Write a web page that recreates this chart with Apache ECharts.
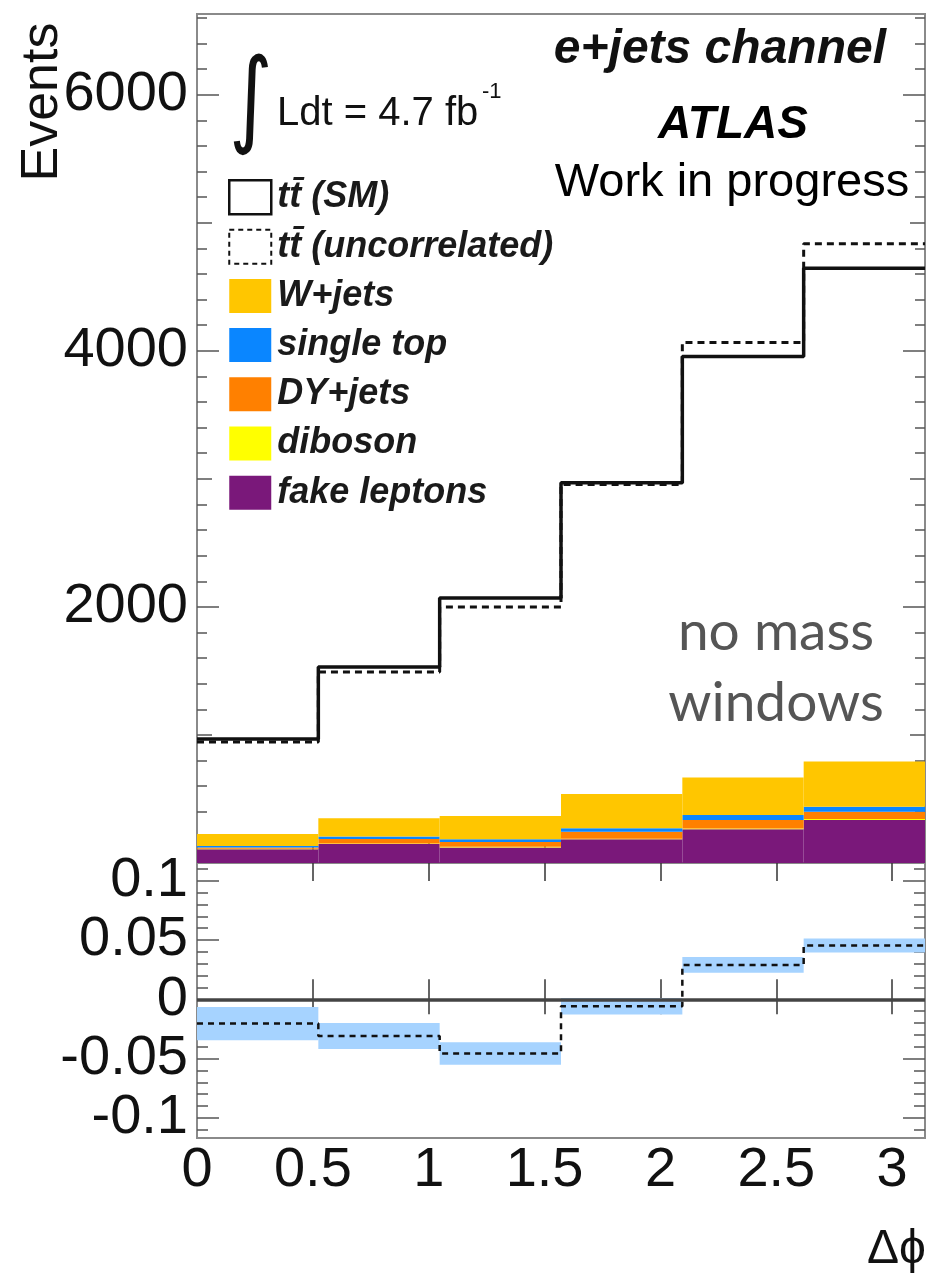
<!DOCTYPE html>
<html><head><meta charset="utf-8">
<script src="https://cdn.jsdelivr.net/npm/echarts@6/dist/echarts.min.js"></script>
<style>html,body{margin:0;padding:0;background:#fff}#chart{width:930px;height:1277px}</style>
</head><body><div id="chart"></div>
<script>
// ---- data ----
const binEdges = [0, 0.5236, 1.0472, 1.5708, 2.0944, 2.6180, 3.1416];
const ttSM = [969, 1531, 2070, 2970, 3955, 4645];
const ttUncorrelated = [945, 1492, 2000, 2955, 4065, 4835];
const fakeLeptons = [108, 148, 122, 185, 263, 336];
const diboson = [3, 4, 4, 5, 6, 7];
const dyJets = [10, 35, 38, 55, 67, 58];
const singleTop = [12, 19, 21, 26, 39, 39];
const wJets = [94, 143, 182, 268, 292, 352];
const ratioValues = [-0.0205, -0.031, -0.0457, -0.0059, 0.029, 0.0454];
const ratioErrors = [0.014, 0.011, 0.0095, 0.007, 0.0066, 0.006];
const xTickLabels = [0, 0.5, 1, 1.5, 2, 2.5, 3];
const mainYTickLabels = [2000, 4000, 6000];
const mainYMidTicks = [1000, 3000, 5000];
const ratioYTickLabels = [-0.1, -0.05, 0, 0.05, 0.1];
const legendNames = ['t\u0074\u0304 (SM)', 't\u0074\u0304 (uncorrelated)', 'W+jets', 'single top', 'DY+jets', 'diboson', 'fake leptons'];

// ---- helpers ----
const X_MAX = binEdges[binEdges.length - 1];
const MAIN_MAX = 6630, RATIO_MIN = -0.117, RATIO_MAX = 0.115;
const mainMinor = [];
for (let v = 200; v < MAIN_MAX; v += 200) if (v % 1000 !== 0) mainMinor.push(v);
const ratioMinor = [];
for (let i = -11; i <= 11; i++) if (i % 5 !== 0) ratioMinor.push(i / 100);

function stepData(vals) {
  return binEdges.map((e, i) => [e, vals[Math.min(i, vals.length - 1)]]);
}
const TICK = '#555';
const FONT = 'Liberation Sans';
const plainNum = v => String(v);

function yAx(grid, pos, min, max, ticks, len, labels) {
  return {
    type: 'value', gridIndex: grid, position: pos, min: min, max: max,
    axisLine: {show: false}, splitLine: {show: false},
    axisLabel: labels ? {show: true, customValues: labels, formatter: plainNum, fontFamily: FONT, fontSize: 56, color: '#111', margin: 9}
                      : {show: false},
    axisTick: {show: true, inside: true, length: len, customValues: ticks, lineStyle: {color: TICK, width: 1.5}}
  };
}
function xAx(grid, pos, len, labels) {
  return {
    type: 'value', gridIndex: grid, position: pos, min: 0, max: X_MAX,
    axisLine: {show: false}, splitLine: {show: false},
    axisLabel: labels ? {show: true, customValues: xTickLabels, formatter: plainNum, fontFamily: FONT, fontSize: 56, color: '#111', margin: 5}
                      : {show: false},
    axisTick: {show: true, inside: true, length: len, customValues: xTickLabels.slice(1), lineStyle: {color: '#333', width: 1.5}}
  };
}

// stacked backgrounds, bottom to top
const stackOrder = [
  {name: legendNames[6], vals: fakeLeptons, color: '#7A187A'},
  {name: legendNames[5], vals: diboson, color: '#FFFF00'},
  {name: legendNames[4], vals: dyJets, color: '#FF8000'},
  {name: legendNames[3], vals: singleTop, color: '#0A86FF'},
  {name: legendNames[2], vals: wJets, color: '#FFC600'}
];
const cumBase = fakeLeptons.map(() => 0);
const stackSeries = stackOrder.map(s => {
  const data = s.vals.map((v, i) => {
    const row = [binEdges[i], binEdges[i + 1], cumBase[i], cumBase[i] + v];
    cumBase[i] += v;
    return row;
  });
  return {
    name: s.name, type: 'custom', xAxisIndex: 0, yAxisIndex: 0, z: 2, silent: true,
    itemStyle: {color: s.color}, data: data, encode: {x: [0, 1], y: [2, 3]},
    renderItem: function (params, api) {
      const p1 = api.coord([api.value(0), api.value(3)]);
      const p2 = api.coord([api.value(1), api.value(2)]);
      return {type: 'rect', shape: {x: p1[0], y: p1[1], width: p2[0] - p1[0], height: p2[1] - p1[1]},
              style: {fill: api.visual('color')}};
    }
  };
});

const chart = echarts.init(document.getElementById('chart'), null, {renderer: 'canvas'});
chart.setOption({
  animation: false,
  backgroundColor: '#fff',
  textStyle: {fontFamily: FONT},
  grid: [
    {left: 197, top: 14, width: 728, height: 849, show: true, borderColor: '#8a8a8a', borderWidth: 2, backgroundColor: 'transparent', outerBoundsMode: 'none'},
    {left: 197, top: 863, width: 728, height: 275, show: true, borderColor: '#8a8a8a', borderWidth: 2, backgroundColor: 'transparent', outerBoundsMode: 'none'}
  ],
  xAxis: [
    xAx(0, 'bottom', 20, false),
    xAx(0, 'top', 18, false),
    xAx(1, 'bottom', 20, true),
    xAx(1, 'top', 15, false)
  ],
  yAxis: [
    yAx(0, 'left', 0, MAIN_MAX, mainYTickLabels, 22, mainYTickLabels),
    yAx(0, 'left', 0, MAIN_MAX, mainYMidTicks, 15, null),
    yAx(0, 'left', 0, MAIN_MAX, mainMinor, 10, null),
    yAx(0, 'right', 0, MAIN_MAX, mainYTickLabels, 22, null),
    yAx(0, 'right', 0, MAIN_MAX, mainYMidTicks, 15, null),
    yAx(0, 'right', 0, MAIN_MAX, mainMinor, 10, null),
    yAx(1, 'left', RATIO_MIN, RATIO_MAX, ratioYTickLabels, 22, ratioYTickLabels),
    yAx(1, 'left', RATIO_MIN, RATIO_MAX, ratioMinor, 11, null),
    yAx(1, 'right', RATIO_MIN, RATIO_MAX, ratioYTickLabels, 22, null),
    yAx(1, 'right', RATIO_MIN, RATIO_MAX, ratioMinor, 11, null)
  ],
  legend: {
    orient: 'vertical', left: 223, top: 174, itemWidth: 42, itemHeight: 34, itemGap: 13.2,
    selectedMode: false,
    textStyle: {fontFamily: FONT, fontWeight: 'bold', fontStyle: 'italic', fontSize: 36, color: '#1a1a1a', lineHeight: 34, padding: [0, 0, 0, 1]},
    data: [
      {name: legendNames[0], icon: 'rect', itemStyle: {color: 'rgba(0,0,0,0)', borderColor: '#111', borderWidth: 2.5}},
      {name: legendNames[1], icon: 'rect', itemStyle: {color: 'rgba(0,0,0,0)', borderColor: '#111', borderWidth: 2, borderType: [5, 4]}},
      {name: legendNames[2], icon: 'rect', itemStyle: {borderWidth: 0}},
      {name: legendNames[3], icon: 'rect', itemStyle: {borderWidth: 0}},
      {name: legendNames[4], icon: 'rect', itemStyle: {borderWidth: 0}},
      {name: legendNames[5], icon: 'rect', itemStyle: {borderWidth: 0}},
      {name: legendNames[6], icon: 'rect', itemStyle: {borderWidth: 0}}
    ]
  },
  series: stackSeries.concat([
    {
      name: legendNames[0], type: 'line', xAxisIndex: 0, yAxisIndex: 0, step: 'end',
      data: stepData(ttSM), symbol: 'none', color: '#111',
      lineStyle: {color: '#111', width: 3.5}, z: 5, silent: true
    },
    {
      name: legendNames[1], type: 'line', xAxisIndex: 0, yAxisIndex: 0, step: 'end',
      data: stepData(ttUncorrelated), symbol: 'none', color: '#111',
      lineStyle: {color: '#111', width: 3, type: [7, 5]}, z: 6, silent: true
    },
    {
      type: 'custom', xAxisIndex: 2, yAxisIndex: 6, z: 2, silent: true,
      data: ratioValues.map((v, i) => [binEdges[i], binEdges[i + 1], v - ratioErrors[i], v + ratioErrors[i]]),
      encode: {x: [0, 1], y: [2, 3]},
      renderItem: function (params, api) {
        const p1 = api.coord([api.value(0), api.value(3)]);
        const p2 = api.coord([api.value(1), api.value(2)]);
        return {type: 'rect', shape: {x: p1[0], y: p1[1], width: p2[0] - p1[0], height: p2[1] - p1[1]},
                style: {fill: '#A6D3FF'}};
      }
    },
    {
      type: 'line', xAxisIndex: 2, yAxisIndex: 6, step: 'end', data: stepData(ratioValues),
      symbol: 'none', lineStyle: {color: '#111', width: 2.5, type: [6, 5]}, z: 6, silent: true,
      markLine: {symbol: 'none', silent: true, label: {show: false}, z: 4,
        lineStyle: {color: '#444', width: 3.5, type: 'solid'}, data: [{yAxis: 0}]}
    }
  ]),
  graphic: [
    {type: 'text', x: 43, y: 102, rotation: Math.PI / 2, style: {text: 'Events', fontFamily: FONT, fontSize: 52, fill: '#111', align: 'center', verticalAlign: 'middle'}},
    {type: 'text', x: 886, y: 50, style: {text: 'e+jets channel', fontFamily: FONT, fontSize: 48, fontWeight: 'bold', fontStyle: 'italic', fill: '#111', align: 'right', verticalAlign: 'middle'}},
    {type: 'text', x: 733, y: 125, style: {text: 'ATLAS', fontFamily: FONT, fontSize: 46, fontWeight: 'bold', fontStyle: 'italic', fill: '#000', align: 'center', verticalAlign: 'middle'}},
    {type: 'text', x: 732, y: 183, style: {text: 'Work in progress', fontFamily: FONT, fontSize: 47, fill: '#000', align: 'center', verticalAlign: 'middle'}},
    {type: 'text', x: 251, y: 106, scaleY: 1.25, style: {text: '\u222B', fontFamily: 'DejaVu Sans', fontSize: 84, fill: '#111', align: 'center', verticalAlign: 'middle'}},
    {type: 'text', x: 277, y: 114, style: {text: 'Ldt = 4.7 fb', fontFamily: FONT, fontSize: 40, fill: '#111', align: 'left', verticalAlign: 'middle'}},
    {type: 'text', x: 482, y: 92, style: {text: '-1', fontFamily: FONT, fontSize: 22, fill: '#111', align: 'left', verticalAlign: 'middle'}},
    {type: 'text', x: 776, y: 632, style: {text: 'no mass', fontFamily: 'Lato', fontSize: 55, fill: '#555', align: 'center', verticalAlign: 'middle'}},
    {type: 'text', x: 776, y: 703, style: {text: 'windows', fontFamily: 'Lato', fontSize: 55, fill: '#555', align: 'center', verticalAlign: 'middle'}},
    {type: 'text', x: 926, y: 1250, style: {text: '\u0394\u03D5', fontFamily: FONT + ', DejaVu Sans', fontSize: 48, fill: '#111', align: 'right', verticalAlign: 'middle'}}
  ]
});
</script>
</body></html>
